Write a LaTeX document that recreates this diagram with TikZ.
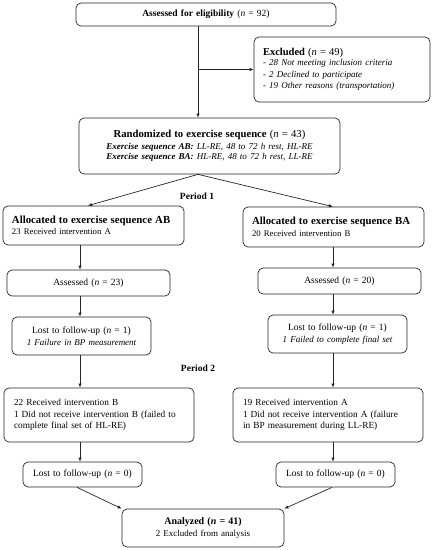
\documentclass[tikz,border=0pt]{standalone}
\usepackage{fontspec}
\setmainfont{Liberation Serif}
\usetikzlibrary{arrows.meta}
\begin{document}
\begin{tikzpicture}[x=1pt,y=-1pt,
  box/.style={draw=black!85, line width=0.7pt, rounded corners=5pt, inner xsep=7pt, inner ysep=2pt, font=\fontsize{9.5}{11.5}\selectfont},
  lbox/.style={box, align=left},
  cbox/.style={box, align=center},
  sz/.code 2 args={\pgfmathsetlengthmacro\boxtw{#1pt-14pt}\tikzset{minimum width=#1pt, minimum height=#2pt, text width=\boxtw}},
  arr/.style={draw=black!85, line width=0.7pt, -{Latex[length=4pt,width=3.5pt]}},
  lbl/.style={font=\fontsize{9.5}{11.5}\selectfont\bfseries}]
\useasboundingbox (0,0) rectangle (433,550);
% nodes
\node[cbox, sz={260}{23}] (elig) at (206,14.5) {\textbf{Assessed for eligibility} (\textit{n} = 92)};
\node[lbox, sz={176}{65}, inner xsep=9pt, text width=158pt] (excl) at (342,69.5) {{\fontsize{10.5}{12.5}\selectfont\textbf{Excluded} (\textit{n} = 49)}\\[-1pt]
{\fontsize{9}{11.5}\selectfont\itshape - 28 Not meeting inclusion criteria\\- 2 Declined to participate\\- 19 Other reasons (transportation)}};
\node[cbox, sz={261}{56}] (rand) at (209.5,146) {{\fontsize{10.7}{12.5}\selectfont\textbf{Randomized to exercise sequence} (\textit{n} = 43)}\\
{\fontsize{9}{11}\selectfont\textit{\textbf{Exercise sequence AB:} LL-RE, 48 to 72 h rest, HL-RE}}\\[-1pt]
{\fontsize{9}{11}\selectfont\textit{\textbf{Exercise sequence BA:} HL-RE, 48 to 72 h rest, LL-RE}}};
\node[lbox, sz={181}{39}, inner xsep=9pt, text width=163pt] (allocAB) at (93.5,225.5) {{\fontsize{10.8}{12.5}\selectfont\textbf{Allocated to exercise sequence AB}}\\
{\fontsize{8.7}{10.5}\selectfont 23 Received intervention A}};
\node[lbox, sz={181}{40}, inner xsep=9pt, text width=163pt] (allocBA) at (333.5,227) {{\fontsize{10.8}{12.5}\selectfont\textbf{Allocated to exercise sequence BA}}\\
{\fontsize{8.7}{10.5}\selectfont 20 Received intervention B}};
\node[cbox, sz={163}{26}] (assAB) at (88.5,283) {Assessed (\textit{n} = 23)};
\node[cbox, sz={163}{26}] (assBA) at (339.5,281) {Assessed (\textit{n} = 20)};
\node[cbox, sz={139}{38}] (lostAB) at (81.5,336) {Lost to follow-up (\textit{n} = 1)\\
{\fontsize{9}{10.5}\selectfont\itshape 1 Failure in BP measurement}};
\node[cbox, sz={139}{38}] (lostBA) at (337.5,334) {Lost to follow-up (\textit{n} = 1)\\
{\fontsize{9}{10.5}\selectfont\itshape 1 Failed to complete final set}};
\node[lbox, sz={190}{54}, inner xsep=10pt, text width=170pt, font=\fontsize{9.3}{11.5}\selectfont] (ptAB) at (99,415) {22 Received intervention B\\1 Did not receive intervention B (failed to\\complete final set of HL-RE)};
\node[lbox, sz={190}{54}, inner xsep=10pt, text width=170pt, font=\fontsize{9.3}{11.5}\selectfont] (ptBA) at (328,415) {19 Received intervention A\\1 Did not receive intervention A (failure\\in BP measurement during LL-RE)};
\node[cbox, sz={119}{25}] (zeroAB) at (82.5,474.5) {Lost to follow-up (\textit{n} = 0)};
\node[cbox, sz={119}{25}] (zeroBA) at (335.5,474.5) {Lost to follow-up (\textit{n} = 0)};
\node[cbox, sz={162}{38}] (anal) at (203,528) {{\fontsize{10}{12}\selectfont\textbf{Analyzed (\textit{n} = 41)}}\\
{\fontsize{9}{10.5}\selectfont 2 Excluded from analysis}};
\node[lbl] (per1) at (197,196) {Period 1};
\node[lbl] (per2) at (198,368) {Period 2};
% helper coordinates
\coordinate (t) at (198,0);
\coordinate (l) at (80,0);
\coordinate (r) at (333,0);
\coordinate (br) at (198,69.5);
% connectors
\draw[arr] (elig.south -| t) -- (rand.north -| t);
\draw[arr] (br) -- (excl.west);
\draw[arr] (rand.south -| t) -- (allocAB.north -| 88,0);
\draw[arr] (rand.south -| t) -- (allocBA.north -| r);
\draw[arr] (allocAB.south -| l) -- (assAB.north -| l);
\draw[arr] (assAB.south -| l) -- (lostAB.north -| l);
\draw[arr] (lostAB.south -| l) -- (ptAB.north -| l);
\draw[arr] (ptAB.south -| l) -- (zeroAB.north -| l);
\draw[arr] (allocBA.south -| r) -- (assBA.north -| r);
\draw[arr] (assBA.south -| r) -- (lostBA.north -| r);
\draw[arr] (lostBA.south -| r) -- (ptBA.north -| r);
\draw[arr] (ptBA.south -| r) -- (zeroBA.north -| r);
\draw[arr] (zeroAB.south -| 77,0) -- (anal.north west);
\draw[arr] (zeroBA.south -| 332,0) -- (anal.north east);
\end{tikzpicture}
\end{document}
